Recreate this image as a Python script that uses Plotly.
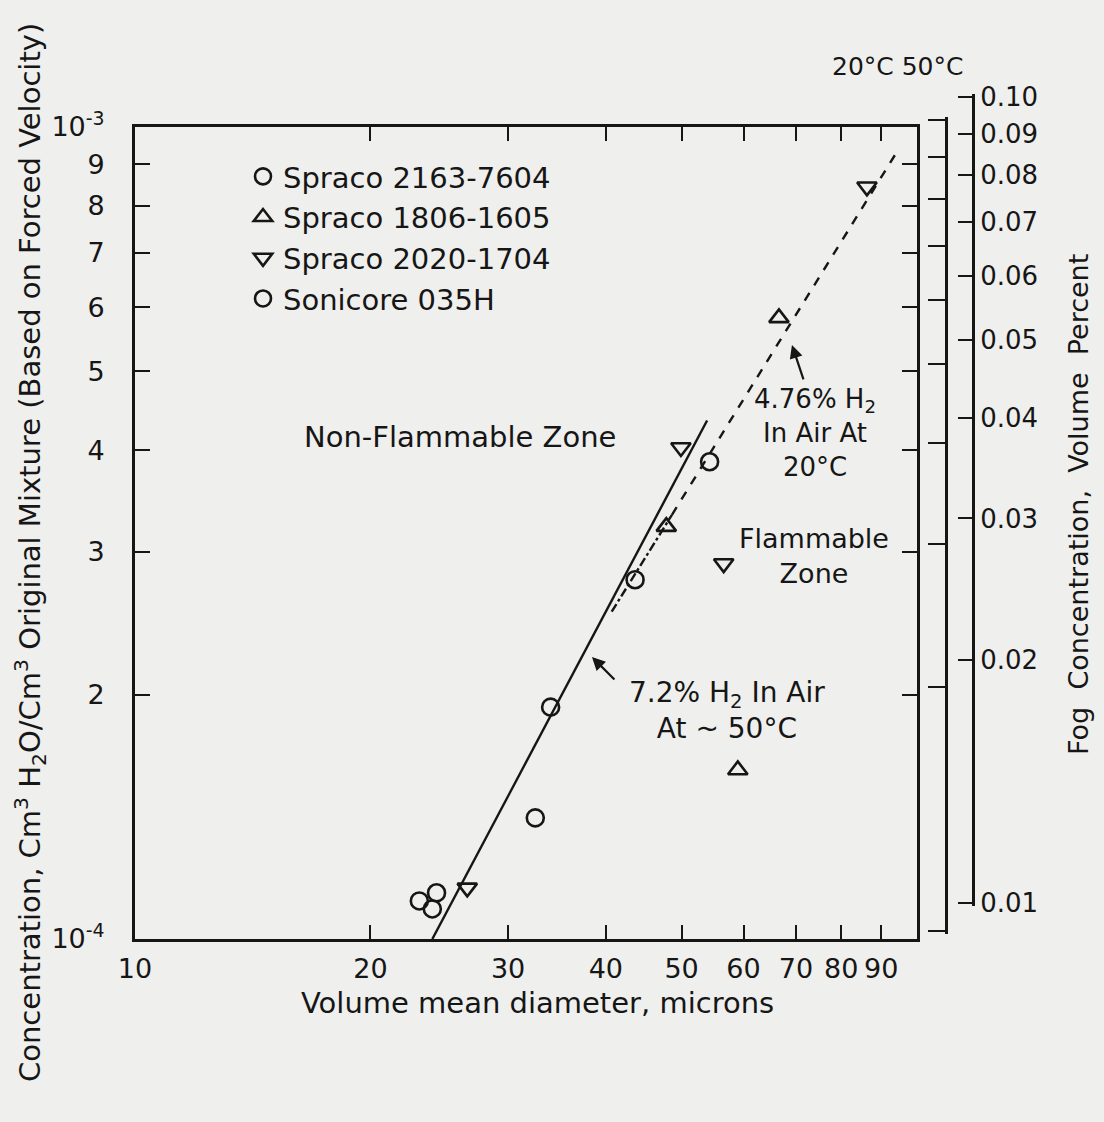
import math
import plotly.graph_objects as go

# ---------------- data ----------------
spraco2163_x = [32.5, 34.0, 43.6, 54.3]
spraco2163_y = [1.41e-4, 1.93e-4, 2.77e-4, 3.87e-4]

spraco1806_x = [47.8, 66.6, 59.0]
spraco1806_y = [3.22e-4, 5.82e-4, 1.615e-4]

spraco2020_x = [26.6, 49.9, 56.6, 86.3]
spraco2020_y = [1.156e-4, 4.03e-4, 2.90e-4, 8.44e-4]

sonicore_x = [23.1, 24.3, 24.0]
sonicore_y = [1.114e-4, 1.14e-4, 1.089e-4]

# boundary lines
line50_x = [24.0, 53.9]          # 7.2% H2 in air at ~50 C (solid)
line50_y = [1.0e-4, 4.35e-4]
line20a_x = [40.7, 48.6]         # 4.76% H2 in air at 20 C (dash-dot part)
line20a_y = [2.53e-4, 3.33e-4]
line20b_x = [48.6, 94.2]         # 4.76% H2 in air at 20 C (dashed part)
line20b_y = [3.33e-4, 9.31e-4]

# axis ticks
x_tickvals = [10, 20, 30, 40, 50, 60, 70, 80, 90, 100]
x_ticktext = ["10", "20", "30", "40", "50", "60", "70", "80", "90", ""]
y_tickvals = [1e-4, 2e-4, 3e-4, 4e-4, 5e-4, 6e-4, 7e-4, 8e-4, 9e-4, 1e-3]
y_ticktext = ["10<sup>-4</sup>", "2", "3", "4", "5", "6", "7", "8", "9", "10<sup>-3</sup>"]
fog_tickvals = [0.01, 0.02, 0.03, 0.04, 0.05, 0.06, 0.07, 0.08, 0.09, 0.10]
fog_ticktext = ["0.01", "0.02", "0.03", "0.04", "0.05", "0.06", "0.07", "0.08", "0.09", "0.10"]

# ---------------- layout geometry ----------------
W, H = 1104, 1122
ML, MR, MT, MB = 135, 104, 90, 183
PW = W - ML - MR
PH = H - MT - MB


def px(xpix):
    return (xpix - ML) / PW


def py(ypix):
    return (H - MB - ypix) / PH


INK = "#161616"
BG = "#efefed"
FONT = "DejaVu Sans"
EPS = 0.004  # small range padding so the end ticks are drawn

fig = go.Figure()

mk = dict(size=17, color=INK, line=dict(color=INK, width=2.6))

fig.add_trace(go.Scatter(x=spraco2163_x, y=spraco2163_y, mode="markers",
                         name="Spraco 2163-7604",
                         marker=dict(symbol="circle-open", **mk)))
fig.add_trace(go.Scatter(x=spraco1806_x, y=spraco1806_y, mode="markers",
                         name="Spraco 1806-1605",
                         marker=dict(symbol="triangle-up-open", **mk)))
fig.add_trace(go.Scatter(x=spraco2020_x, y=spraco2020_y, mode="markers",
                         name="Spraco 2020-1704",
                         marker=dict(symbol="triangle-down-open", **mk)))
fig.add_trace(go.Scatter(x=sonicore_x, y=sonicore_y, mode="markers",
                         name="Sonicore 035H",
                         marker=dict(symbol="circle-open", **mk)))

fig.add_trace(go.Scatter(x=line50_x, y=line50_y, mode="lines", showlegend=False,
                         line=dict(color=INK, width=2.4), hoverinfo="skip"))
fig.add_trace(go.Scatter(x=line20a_x, y=line20a_y, mode="lines", showlegend=False,
                         line=dict(color=INK, width=2.4, dash="dashdot"), hoverinfo="skip"))
fig.add_trace(go.Scatter(x=line20b_x, y=line20b_y, mode="lines", showlegend=False,
                         line=dict(color=INK, width=2.4, dash="dash"), hoverinfo="skip"))

# invisible anchors so the two fog-concentration axes are drawn
fig.add_trace(go.Scatter(x=[50], y=[0.02], yaxis="y2", mode="markers",
                         marker=dict(opacity=0), showlegend=False, hoverinfo="skip"))
fig.add_trace(go.Scatter(x=[50], y=[0.02], yaxis="y3", mode="markers",
                         marker=dict(opacity=0), showlegend=False, hoverinfo="skip"))

tickfont = dict(family=FONT, size=27, color=INK)
fogfont = dict(family=FONT, size=26, color=INK)


def fog_domain(y001, y010):
    dec = y001 - y010
    pad = EPS * dec
    return [py(y001 + pad), py(y010 - pad)]


fig.update_layout(
    width=W, height=H,
    margin=dict(l=ML, r=MR, t=MT, b=MB),
    paper_bgcolor=BG, plot_bgcolor="rgba(0,0,0,0)",
    font=dict(family=FONT, color=INK, size=26),
    xaxis=dict(type="log", range=[1, 2], domain=[0, px(917)],
               tickvals=x_tickvals, ticktext=x_ticktext, tickfont=tickfont,
               ticks="inside", ticklen=14, tickwidth=2.2, tickcolor=INK,
               showline=True, linewidth=3, linecolor=INK, mirror="ticks",
               showgrid=False, zeroline=False, ticklabelstandoff=4),
    yaxis=dict(type="log", range=[-4, -3], domain=[0, py(127)],
               tickvals=y_tickvals, ticktext=y_ticktext, tickfont=tickfont,
               ticks="inside", ticklen=15, tickwidth=2.2, tickcolor=INK,
               showline=True, linewidth=3, linecolor=INK, mirror="ticks",
               showgrid=False, zeroline=False, ticklabelstandoff=22),
    yaxis2=dict(type="log", range=[-2 - EPS, -1 + EPS], domain=fog_domain(931, 120),
                anchor="free", position=px(946), side="right",
                tickvals=fog_tickvals, showticklabels=False,
                ticks="inside", ticklen=17, tickwidth=2.2, tickcolor=INK,
                showline=True, linewidth=3, linecolor=INK,
                showgrid=False, zeroline=False),
    yaxis3=dict(type="log", range=[-2 - EPS, -1 + EPS], domain=fog_domain(903, 97),
                anchor="free", position=px(973), side="right",
                tickvals=fog_tickvals, ticktext=fog_ticktext, tickfont=fogfont,
                ticks="inside", ticklen=14, tickwidth=2.2, tickcolor=INK,
                showline=True, linewidth=3, linecolor=INK,
                showgrid=False, zeroline=False),
    legend=dict(x=px(243), y=py(151), xanchor="left", yanchor="top",
                bgcolor="rgba(0,0,0,0)", font=dict(family=FONT, size=29, color=INK),
                itemwidth=30, tracegroupgap=0),
    showlegend=True,
)

txt = dict(family=FONT, color=INK)
annotations = [
    dict(text="Volume mean diameter, microns", x=px(537), y=py(1003),
         font=dict(size=29, **txt)),
    dict(text="Concentration, Cm<sup>3</sup> H<sub>2</sub>O/Cm<sup>3</sup> Original Mixture "
              "(Based on Forced Velocity)",
         x=px(30), y=py(553), textangle=-90, font=dict(size=29, **txt)),
    dict(text="Fog  Concentration,  Volume  Percent", x=px(1078), y=py(505),
         textangle=-90, font=dict(size=27, **txt)),
    dict(text="20°C 50°C", x=px(897), y=py(66), font=dict(size=25, **txt)),
    dict(text="Non-Flammable Zone", x=px(460), y=py(437), font=dict(size=29, **txt)),
    dict(text="4.76% H<sub>2</sub><br>In Air At<br>20°C", x=px(815), y=py(433),
         font=dict(size=26, **txt), align="center"),
    dict(text="Flammable<br>Zone", x=px(814), y=py(556),
         font=dict(size=27, **txt), align="center"),
    dict(text="7.2% H<sub>2</sub> In Air<br>At ~ 50°C", x=px(727), y=py(710),
         font=dict(size=28, **txt), align="center"),
]
for a in annotations:
    a.update(xref="paper", yref="paper", showarrow=False,
             xanchor="center", yanchor="middle")

# arrows pointing to the two boundary lines (positions in log units)
arrows = [
    dict(x=math.log10(69.2), y=math.log10(5.39e-4), ax=12, ay=36),
    dict(x=math.log10(38.4), y=math.log10(2.225e-4), ax=24, ay=24),
]
for a in arrows:
    a.update(xref="x", yref="y", text="", showarrow=True, arrowhead=2,
             arrowsize=1.2, arrowwidth=2.2, arrowcolor=INK)

fig.update_layout(annotations=annotations + arrows)

fig.write_html("out.html")
